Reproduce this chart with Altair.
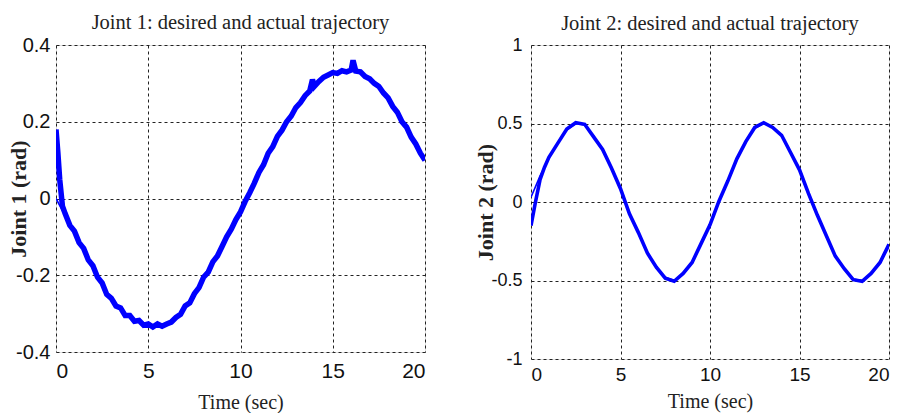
import altair as alt
import pandas as pd

# ---------------- data ----------------
# Joint 1 desired trajectory
j1_des_t = [0, 0.5, 1, 1.5, 2, 2.5, 3, 3.5, 4, 4.5, 5, 5.5, 6, 6.5, 7, 7.5, 8, 8.5, 9, 9.5,
            10, 10.5, 11, 11.5, 12, 12.5, 13, 13.5, 14, 14.5, 15, 15.5, 16, 16.5, 17, 17.5,
            18, 18.5, 19, 19.5, 20]
j1_des_v = [0.0, -0.045, -0.09, -0.135, -0.18, -0.225, -0.265, -0.29, -0.31, -0.32, -0.328,
            -0.33, -0.327, -0.31, -0.285, -0.25, -0.21, -0.17, -0.128, -0.08, -0.035, 0.015,
            0.065, 0.115, 0.16, 0.198, 0.235, 0.265, 0.298, 0.315, 0.328, 0.332, 0.333, 0.325,
            0.31, 0.29, 0.265, 0.225, 0.185, 0.142, 0.1]

# Joint 1 actual trajectory
j1_act_t = [0, 0.1, 0.2, 0.35, 0.5, 0.75, 1.0, 1.25, 1.5, 1.75, 2.0, 2.25, 2.5, 2.75, 3.0, 3.25,
            3.5, 3.75, 4.0, 4.25, 4.5, 4.75, 5.0, 5.25, 5.5, 5.75, 6.0, 6.25, 6.5, 6.75, 7.0,
            7.25, 7.5, 7.75, 8.0, 8.25, 8.5, 8.75, 9.0, 9.25, 9.5, 9.75, 10.0, 10.25, 10.5,
            10.75, 11.0, 11.25, 11.5, 11.75, 12.0, 12.25, 12.5, 12.75, 13.0, 13.25, 13.5,
            13.75, 13.9, 14.0, 14.25, 14.5, 14.75, 15.0, 15.25, 15.5, 15.75, 16.0, 16.1,
            16.25, 16.5, 16.75, 17.0, 17.25, 17.5, 17.75, 18.0, 18.25, 18.5, 18.75, 19.0,
            19.25, 19.5, 19.75, 20.0]
j1_act_v = [0.18, 0.12, 0.05, -0.02, -0.04, -0.07, -0.085, -0.115, -0.13, -0.16, -0.175, -0.205,
            -0.22, -0.25, -0.26, -0.28, -0.285, -0.305, -0.305, -0.32, -0.318, -0.33, -0.327,
            -0.335, -0.327, -0.333, -0.327, -0.322, -0.31, -0.302, -0.28, -0.272, -0.248,
            -0.232, -0.205, -0.192, -0.165, -0.15, -0.125, -0.1, -0.08, -0.055, -0.035, -0.008,
            0.015, 0.04, 0.068, 0.088, 0.118, 0.135, 0.162, 0.178, 0.2, 0.215, 0.237, 0.25,
            0.268, 0.28, 0.31, 0.292, 0.305, 0.316, 0.322, 0.328, 0.326, 0.333, 0.33, 0.335,
            0.36, 0.332, 0.33, 0.318, 0.312, 0.3, 0.292, 0.275, 0.262, 0.24, 0.225, 0.2, 0.186,
            0.16, 0.142, 0.118, 0.1]

# Joint 2 desired trajectory
j2_des_t = [0, 0.5, 1, 1.5, 2, 2.5, 3, 3.5, 4, 4.5, 5, 5.5, 6, 6.5, 7, 7.5, 8, 8.5, 9, 9.5,
            10, 10.5, 11, 11.5, 12, 12.5, 13, 13.5, 14, 14.5, 15, 15.5, 16, 16.5, 17, 17.5,
            18, 18.5, 19, 19.5, 20]
j2_des_v = [0.03, 0.165, 0.28, 0.38, 0.46, 0.5, 0.49, 0.42, 0.33, 0.22, 0.08, -0.07, -0.2,
            -0.32, -0.42, -0.48, -0.5, -0.46, -0.38, -0.27, -0.14, 0.0, 0.14, 0.27, 0.39,
            0.47, 0.5, 0.48, 0.42, 0.32, 0.2, 0.06, -0.08, -0.22, -0.34, -0.43, -0.49, -0.5,
            -0.46, -0.38, -0.27]

# Joint 2 actual trajectory
j2_act_t = [0, 0.25, 0.5, 0.75, 1.0, 1.5, 2, 2.5, 3, 3.5, 4, 4.5, 5, 5.5, 6, 6.5, 7, 7.5, 8,
            8.5, 9, 9.5, 10, 10.5, 11, 11.5, 12, 12.5, 13, 13.5, 14, 14.5, 15, 15.5, 16, 16.5,
            17, 17.5, 18, 18.5, 19, 19.5, 20]
j2_act_v = [-0.15, 0.0, 0.14, 0.22, 0.285, 0.375, 0.465, 0.505, 0.495, 0.415, 0.335, 0.215,
            0.085, -0.075, -0.195, -0.325, -0.415, -0.485, -0.505, -0.455, -0.385, -0.265,
            -0.145, 0.005, 0.135, 0.275, 0.385, 0.475, 0.505, 0.475, 0.425, 0.315, 0.205,
            0.055, -0.085, -0.215, -0.345, -0.425, -0.495, -0.505, -0.455, -0.385, -0.27]

# ---------------- tables ----------------
j1_des = pd.DataFrame({"t": j1_des_t, "v": j1_des_v})
j1_act = pd.DataFrame({"t": j1_act_t, "v": j1_act_v})
j2_des = pd.DataFrame({"t": j2_des_t, "v": j2_des_v})
j2_act = pd.DataFrame({"t": j2_act_t, "v": j2_act_v})

BLUE = "#0000ff"
SERIF = "Liberation Serif"
SANS = "Liberation Sans"


def panel(des, act, ydom, yvals, ytitle, title, w, h, xlab_size, ylab_size, act_width,
          ytitle_x, ylab_pad, xlab_pad, xtitle_pad, title_offset):
    x_enc = alt.X("t:Q",
                  scale=alt.Scale(domain=[0, 20], nice=False, zero=False),
                  axis=alt.Axis(values=[0, 5, 10, 15, 20], title="Time (sec)",
                                labelFont=SANS, labelFontSize=xlab_size,
                                labelColor="#111", labelPadding=xlab_pad,
                                titleFont=SERIF, titleFontSize=20,
                                titleFontWeight="normal", titleColor="#222",
                                titlePadding=xtitle_pad,
                                grid=True, gridDash=[3, 3], gridColor="#222",
                                gridOpacity=1, gridWidth=1,
                                ticks=False, domain=False))
    y_enc = alt.Y("v:Q",
                  scale=alt.Scale(domain=ydom, nice=False, zero=False),
                  axis=alt.Axis(values=yvals, title=ytitle,
                                labelExpr="datum.value == 0 ? '0' : (datum.value < 0 ? '-' : '') + format(abs(datum.value), '~g')",
                                labelFont=SANS, labelFontSize=ylab_size,
                                labelColor="#111", labelPadding=ylab_pad,
                                titleFont=SERIF, titleFontSize=22,
                                titleFontWeight="bold", titleColor="#222",
                                titleX=ytitle_x, titleY=h / 2, titleAngle=270,
                                titleBaseline="middle", titleAlign="center",
                                grid=True, gridDash=[3, 3], gridColor="#222",
                                gridOpacity=1, gridWidth=1,
                                ticks=False, domain=False))
    base_des = alt.Chart(des).mark_line(color=BLUE, strokeWidth=1.6, clip=True).encode(
        x=x_enc, y=y_enc, order="t:Q")
    base_act = alt.Chart(act).mark_line(color=BLUE, strokeWidth=act_width, clip=True,
                                        strokeJoin="miter").encode(
        x="t:Q", y="v:Q", order="t:Q")
    return alt.layer(base_des, base_act).properties(
        width=w, height=h,
        title=alt.TitleParams(title, font=SERIF, fontSize=20.5, fontWeight="normal",
                              color="#222", offset=title_offset))


left = panel(j1_des, j1_act, [-0.4, 0.4], [-0.4, -0.2, 0, 0.2, 0.4], "Joint 1 (rad)",
             "Joint 1: desired and actual trajectory", 369, 307, 21, 20, 5.5,
             -37.5, 6, 8, 11, 2)
right = panel(j2_des, j2_act, [-1, 1], [-1, -0.5, 0, 0.5, 1], "Joint 2 (rad)",
              "Joint 2: desired and actual trajectory", 358, 314, 19, 18, 3.6,
              -46, 9, 6, 7, 2)

chart = alt.hconcat(left, right, spacing=106, bounds="flush").properties(
    padding={"left": 7, "top": 12, "right": 0, "bottom": 0}
).configure_view(
    stroke="#222", strokeWidth=1.5
).configure(background="white")

chart.save("out.html", embed_options={"renderer": "svg", "actions": False})
